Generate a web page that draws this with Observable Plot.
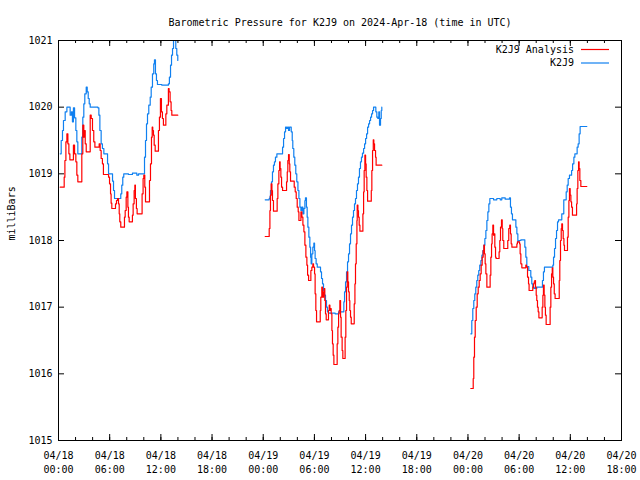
<!DOCTYPE html>
<html>
<head>
<meta charset="utf-8">
<script src="https://cdn.jsdelivr.net/npm/d3@7"></script>
<script src="https://cdn.jsdelivr.net/npm/@observablehq/plot@0.6"></script>
<style>
html, body { margin: 0; padding: 0; background: #fff; }
#chart { width: 640px; height: 480px; }
</style>
</head>
<body>
<div id="chart"></div>
<script>
// ---------- DATA ----------
const chartTitle = "Barometric Pressure for K2J9 on 2024-Apr-18 (time in UTC)";
const yAxisLabel = "milliBars";
const seriesNames = ["K2J9 Analysis", "K2J9"];
const segmentDays = ["2024-04-18", "2024-04-19", "2024-04-20"];
const yTickValues = [1015, 1016, 1017, 1018, 1019, 1020, 1021];
const xTickValues = [
  "2024-04-18T00:00Z", "2024-04-18T06:00Z", "2024-04-18T12:00Z", "2024-04-18T18:00Z",
  "2024-04-19T00:00Z", "2024-04-19T06:00Z", "2024-04-19T12:00Z", "2024-04-19T18:00Z",
  "2024-04-20T00:00Z", "2024-04-20T06:00Z", "2024-04-20T12:00Z", "2024-04-20T18:00Z"
];

// [minutes after 00:00 UTC of the segment day, millibars]
const analysisApr18 = [[12,1018.80],[40,1018.95],[45,1019.20],[52,1019.48],[59,1019.60],[66,1019.45],[73,1019.30],[80,1019.21],[105,1019.43],[113,1019.30],[122,1019.18],[129,1018.98],[136,1018.88],[164,1019.30],[171,1019.73],[178,1019.55],[183,1019.65],[188,1019.45],[195,1019.33],[223,1019.88],[230,1019.83],[239,1019.65],[248,1019.48],[256,1019.40],[286,1019.45],[293,1019.35],[300,1019.23],[309,1019.15],[316,1018.99],[352,1018.95],[359,1018.85],[366,1018.70],[370,1018.56],[375,1018.48],[401,1018.55],[408,1018.60],[415,1018.63],[422,1018.55],[427,1018.40],[431,1018.28],[438,1018.20],[464,1018.35],[469,1018.45],[476,1018.65],[481,1018.73],[488,1018.50],[492,1018.35],[497,1018.28],[520,1018.38],[525,1018.55],[532,1018.75],[537,1018.83],[541,1018.63],[548,1018.48],[553,1018.40],[588,1018.70],[595,1018.93],[600,1018.98],[607,1018.80],[612,1018.58],[640,1018.90],[647,1019.15],[654,1019.55],[659,1019.70],[663,1019.65],[668,1019.58],[673,1019.43],[680,1019.34],[703,1019.65],[710,1019.85],[717,1020.13],[724,1019.93],[731,1019.83],[738,1019.73],[755,1019.90],[762,1020.03],[773,1020.28],[778,1020.23],[785,1020.08],[792,1019.95],[797,1019.88],[839,1019.88]];
const stationApr18 = [[12,1019.30],[19,1019.50],[28,1019.65],[35,1019.80],[47,1019.93],[59,1020.00],[82,1019.88],[91,1019.93],[98,1019.78],[105,1019.99],[113,1019.84],[122,1019.65],[129,1019.48],[136,1019.30],[164,1019.55],[171,1019.85],[178,1020.05],[185,1020.20],[195,1020.30],[202,1020.23],[209,1020.13],[216,1020.05],[223,1020.00],[277,1019.99],[284,1019.88],[291,1019.65],[300,1019.45],[309,1019.38],[319,1019.30],[345,1019.15],[352,1019.00],[380,1018.89],[387,1018.75],[394,1018.63],[438,1018.70],[445,1018.83],[452,1018.95],[459,1019.00],[492,1018.99],[520,1019.01],[551,1018.98],[563,1019.00],[605,1019.25],[612,1019.50],[619,1019.75],[626,1019.90],[635,1020.03],[645,1020.15],[652,1020.30],[661,1020.50],[670,1020.65],[675,1020.71],[682,1020.50],[689,1020.40],[696,1020.34],[727,1020.33],[773,1020.35],[780,1020.45],[788,1020.63],[795,1020.78],[802,1020.88],[809,1021.00],[816,1021.00],[825,1020.88],[832,1020.78],[839,1020.70]];

const analysisApr19 = [[14,1018.06],[42,1018.18],[47,1018.45],[51,1018.68],[56,1018.85],[61,1018.75],[65,1018.60],[72,1018.44],[98,1018.63],[103,1018.85],[110,1019.05],[115,1019.18],[119,1019.08],[124,1018.95],[129,1018.80],[136,1018.75],[164,1018.88],[169,1019.03],[173,1019.20],[178,1019.29],[183,1019.15],[187,1019.03],[192,1018.89],[218,1018.80],[225,1018.73],[232,1018.63],[239,1018.50],[246,1018.43],[251,1018.30],[265,1018.43],[272,1018.35],[279,1018.23],[286,1018.13],[293,1017.93],[300,1017.75],[307,1017.63],[312,1017.48],[319,1017.40],[335,1017.55],[342,1017.60],[349,1017.65],[354,1017.60],[361,1017.50],[365,1017.20],[370,1016.95],[375,1016.78],[401,1016.95],[405,1017.15],[412,1017.30],[417,1017.15],[424,1017.23],[429,1017.28],[433,1017.10],[438,1016.90],[443,1016.81],[459,1016.95],[464,1017.03],[469,1016.95],[473,1016.98],[478,1016.90],[483,1016.65],[487,1016.45],[492,1016.28],[497,1016.14],[520,1016.45],[525,1016.70],[530,1016.90],[534,1016.95],[539,1017.10],[544,1016.85],[548,1016.55],[555,1016.35],[560,1016.23],[576,1016.55],[581,1016.95],[586,1017.30],[591,1017.53],[595,1017.38],[600,1017.23],[605,1017.10],[609,1016.95],[614,1016.85],[619,1016.75],[640,1017.05],[645,1017.35],[649,1017.65],[654,1017.95],[659,1018.30],[661,1018.53],[666,1018.45],[670,1018.35],[675,1018.23],[680,1018.14],[701,1018.40],[706,1018.73],[710,1019.05],[715,1019.28],[720,1019.15],[724,1018.95],[729,1018.75],[734,1018.59],[760,1018.75],[764,1019.05],[769,1019.35],[774,1019.51],[778,1019.45],[783,1019.35],[790,1019.25],[794,1019.13],[834,1019.13]];
const stationApr19 = [[14,1018.61],[42,1018.63],[47,1018.66],[51,1018.75],[58,1018.88],[65,1019.03],[72,1019.13],[79,1019.18],[86,1019.25],[96,1019.30],[136,1019.40],[143,1019.53],[150,1019.63],[157,1019.70],[164,1019.68],[171,1019.70],[178,1019.65],[185,1019.70],[197,1019.63],[204,1019.50],[208,1019.38],[215,1019.25],[222,1019.13],[229,1019.00],[236,1018.88],[244,1018.75],[251,1018.63],[258,1018.50],[265,1018.45],[272,1018.50],[279,1018.40],[286,1018.48],[293,1018.60],[297,1018.64],[304,1018.50],[309,1018.35],[314,1018.20],[321,1018.05],[328,1017.90],[333,1017.75],[337,1017.65],[342,1017.80],[349,1017.90],[356,1017.96],[361,1017.85],[365,1017.73],[372,1017.65],[380,1017.60],[403,1017.53],[410,1017.43],[417,1017.35],[424,1017.25],[431,1017.18],[438,1017.10],[445,1017.00],[452,1016.93],[459,1016.91],[506,1016.90],[530,1016.93],[567,1017.08],[572,1017.23],[579,1017.38],[586,1017.53],[593,1017.68],[600,1017.80],[607,1017.95],[614,1018.10],[621,1018.23],[628,1018.35],[635,1018.45],[642,1018.55],[649,1018.63],[656,1018.75],[663,1018.85],[670,1018.95],[677,1019.08],[684,1019.18],[691,1019.25],[698,1019.31],[706,1019.38],[713,1019.45],[720,1019.53],[727,1019.60],[734,1019.70],[741,1019.75],[748,1019.80],[755,1019.85],[762,1019.90],[769,1019.95],[776,1020.00],[792,1019.93],[799,1019.85],[806,1019.83],[813,1019.93],[818,1019.73],[825,1019.83],[830,1019.95],[834,1020.00]];

const analysisApr20 = [[20,1015.78],[37,1015.93],[41,1016.25],[46,1016.55],[51,1016.80],[58,1017.00],[65,1017.20],[72,1017.30],[79,1017.40],[86,1017.50],[93,1017.63],[100,1017.75],[107,1017.85],[112,1017.93],[116,1017.80],[121,1017.65],[126,1017.50],[133,1017.30],[156,1017.48],[161,1017.75],[166,1017.95],[170,1018.10],[175,1018.23],[180,1018.08],[184,1018.10],[189,1017.90],[194,1017.75],[198,1017.73],[219,1017.83],[224,1018.00],[229,1018.20],[236,1018.31],[241,1018.18],[245,1018.00],[252,1017.88],[280,1018.00],[287,1018.18],[294,1018.23],[299,1018.10],[304,1017.95],[309,1017.90],[344,1017.95],[348,1017.98],[363,1017.95],[367,1017.80],[372,1017.65],[379,1017.59],[407,1017.63],[412,1017.60],[419,1017.45],[426,1017.35],[430,1017.25],[456,1017.30],[461,1017.35],[466,1017.38],[470,1017.40],[475,1017.30],[480,1017.18],[484,1017.10],[489,1017.00],[494,1016.93],[499,1016.84],[522,1017.00],[527,1017.18],[531,1017.33],[536,1017.18],[541,1017.00],[545,1016.88],[550,1016.74],[578,1017.00],[583,1017.30],[588,1017.50],[593,1017.59],[597,1017.45],[602,1017.35],[607,1017.20],[613,1017.13],[642,1017.40],[646,1017.70],[651,1018.00],[656,1018.18],[660,1018.25],[665,1018.15],[670,1018.03],[675,1017.93],[679,1017.85],[700,1018.05],[705,1018.35],[710,1018.60],[714,1018.78],[719,1018.68],[724,1018.58],[729,1018.50],[735,1018.38],[764,1018.55],[768,1018.78],[773,1019.05],[778,1019.18],[782,1019.08],[787,1018.90],[794,1018.81],[836,1018.81]];
const stationApr20 = [[20,1016.60],[27,1016.80],[34,1016.98],[41,1017.10],[48,1017.20],[55,1017.30],[62,1017.40],[69,1017.48],[76,1017.55],[83,1017.63],[91,1017.70],[98,1017.78],[105,1017.85],[112,1017.93],[119,1018.03],[126,1018.15],[133,1018.30],[140,1018.43],[147,1018.55],[154,1018.63],[180,1018.61],[203,1018.63],[227,1018.61],[238,1018.64],[262,1018.62],[292,1018.64],[299,1018.50],[306,1018.40],[313,1018.31],[337,1018.20],[344,1018.10],[351,1017.98],[358,1018.00],[372,1018.01],[400,1017.90],[407,1017.75],[414,1017.61],[428,1017.55],[442,1017.45],[449,1017.35],[456,1017.30],[463,1017.28],[470,1017.29],[477,1017.28],[484,1017.30],[524,1017.40],[531,1017.53],[538,1017.60],[597,1017.63],[602,1017.75],[609,1017.88],[616,1018.03],[623,1018.15],[630,1018.28],[637,1018.31],[653,1018.31],[660,1018.40],[674,1018.61],[691,1018.73],[698,1018.83],[705,1018.93],[714,1018.98],[729,1019.05],[736,1019.15],[745,1019.25],[752,1019.30],[768,1019.40],[775,1019.45],[782,1019.60],[789,1019.71],[836,1019.71]];

// ---------- BUILD ROWS ----------
const colors = {"K2J9 Analysis": "#ff0000", "K2J9": "#1080f0"};
function toRows(series, segs) {
  const rows = [];
  segs.forEach((seg, i) => {
    const base = Date.parse(segmentDays[i] + "T00:00:00Z");
    seg.forEach(([m, v]) => rows.push({series, seg: i, time: new Date(base + m * 60000), value: v}));
  });
  return rows;
}
const analysisRows = toRows(seriesNames[0], [analysisApr18, analysisApr19, analysisApr20]);
const stationRows = toRows(seriesNames[1], [stationApr18, stationApr19, stationApr20]);

const W = 640, H = 480, mL = 58, mR = 19, mT = 40, mB = 40;
const fw = W - mL - mR, fh = H - mT - mB;
const xMajor = xTickValues.map(d => new Date(d));
const xMinor = d3.utcHour.every(2).range(xMajor[0], new Date(+xMajor[xMajor.length - 1] + 1));
const font = "'DejaVu Sans Mono', 'Liberation Mono', monospace";

const svg = Plot.plot({
  width: W, height: H,
  marginLeft: mL, marginRight: mR, marginTop: mT, marginBottom: mB,
  style: {fontFamily: font, fontSize: "10px", background: "#fff", color: "#000", overflow: "visible"},
  x: {type: "utc", domain: [xMajor[0], xMajor[xMajor.length - 1]]},
  y: {domain: [1015, 1021]},
  marks: [
    Plot.line(stationRows, {x: "time", y: "value", z: "seg", curve: "step-after", stroke: colors["K2J9"], strokeWidth: 1.2, clip: true}),
    Plot.line(analysisRows, {x: "time", y: "value", z: "seg", curve: "step-after", stroke: colors["K2J9 Analysis"], strokeWidth: 1.2, clip: true}),
    // inward ticks (gnuplot style, mirrored)
    Plot.tickX(xMinor, {x: d => d, insetTop: fh - 3, stroke: "#000"}),
    Plot.tickX(xMinor, {x: d => d, insetBottom: fh - 3, stroke: "#000"}),
    Plot.tickX(xMajor, {x: d => d, insetTop: fh - 6, stroke: "#000"}),
    Plot.tickX(xMajor, {x: d => d, insetBottom: fh - 6, stroke: "#000"}),
    Plot.tickY(yTickValues, {y: d => d, insetRight: fw - 6, stroke: "#000"}),
    Plot.tickY(yTickValues, {y: d => d, insetLeft: fw - 6, stroke: "#000"}),
    Plot.frame({stroke: "#000", strokeWidth: 1}),
    Plot.axisX(xMajor, {tickSize: 0, tickPadding: 9, tickFormat: d3.utcFormat("%m/%d\n%H:%M"), lineHeight: 1.35, label: null, fontSize: 10}),
    Plot.axisY(yTickValues, {tickSize: 0, tickPadding: 6, label: null, fontSize: 10, tickFormat: d => String(d)}),
    Plot.text([chartTitle], {frameAnchor: "top", dy: -22, fontSize: 10, fill: "#000"}),
    Plot.text([yAxisLabel], {frameAnchor: "left", dx: -47, rotate: -90, fontSize: 10, fill: "#000"})
  ]
});

// legend (gnuplot-style, inside top-right of frame)
const g = d3.select(svg).append("g").attr("font-family", font).attr("font-size", 10);
seriesNames.forEach((name, i) => {
  const y = mT + 9.5 + i * 13.5;
  g.append("text").attr("x", W - mR - 47).attr("y", y).attr("dy", "0.32em")
    .attr("text-anchor", "end").attr("fill", "#000").text(name);
  g.append("line").attr("x1", W - mR - 40).attr("x2", W - mR - 12).attr("y1", y).attr("y2", y)
    .attr("stroke", colors[name]).attr("stroke-width", 1.2);
});

document.getElementById("chart").appendChild(svg);
</script>
</body>
</html>
